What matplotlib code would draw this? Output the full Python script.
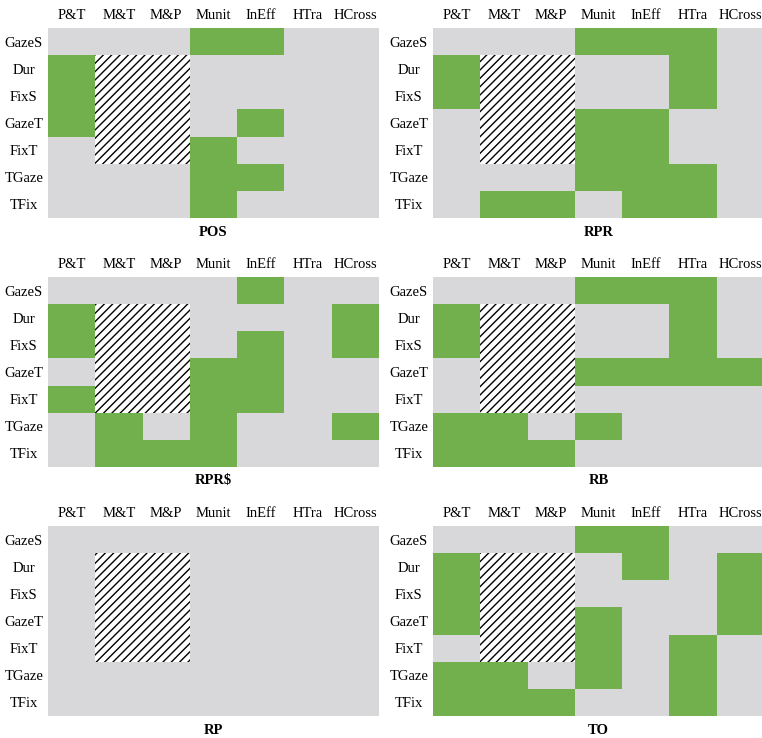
import matplotlib
matplotlib.use('Agg')
from matplotlib import pyplot as plt
from matplotlib.colors import ListedColormap
from matplotlib.patches import Rectangle
import numpy as np

# ---- data ------------------------------------------------------------------
cols = ['P&T', 'M&T', 'M&P', 'Munit', 'InEff', 'HTra', 'HCross']
rows = ['GazeS', 'Dur', 'FixS', 'GazeT', 'FixT', 'TGaze', 'TFix']

# cells that are not applicable (hatched)
na_rows = ['Dur', 'FixS', 'GazeT', 'FixT']
na_cols = ['M&T', 'M&P']

# 1 = significant (green), 0 = not (gray); rows x cols
POS = [[0, 0, 0, 1, 1, 0, 0],
       [1, 0, 0, 0, 0, 0, 0],
       [1, 0, 0, 0, 0, 0, 0],
       [1, 0, 0, 0, 1, 0, 0],
       [0, 0, 0, 1, 0, 0, 0],
       [0, 0, 0, 1, 1, 0, 0],
       [0, 0, 0, 1, 0, 0, 0]]

RPR = [[0, 0, 0, 1, 1, 1, 0],
       [1, 0, 0, 0, 0, 1, 0],
       [1, 0, 0, 0, 0, 1, 0],
       [0, 0, 0, 1, 1, 0, 0],
       [0, 0, 0, 1, 1, 0, 0],
       [0, 0, 0, 1, 1, 1, 0],
       [0, 1, 1, 0, 1, 1, 0]]

RPRD = [[0, 0, 0, 0, 1, 0, 0],
        [1, 0, 0, 0, 0, 0, 1],
        [1, 0, 0, 0, 1, 0, 1],
        [0, 0, 0, 1, 1, 0, 0],
        [1, 0, 0, 1, 1, 0, 0],
        [0, 1, 0, 1, 0, 0, 1],
        [0, 1, 1, 1, 0, 0, 0]]

RB = [[0, 0, 0, 1, 1, 1, 0],
      [1, 0, 0, 0, 0, 1, 0],
      [1, 0, 0, 0, 0, 1, 0],
      [0, 0, 0, 1, 1, 1, 1],
      [0, 0, 0, 0, 0, 0, 0],
      [1, 1, 0, 1, 0, 0, 0],
      [1, 1, 1, 0, 0, 0, 0]]

RP = [[0] * 7 for _ in range(7)]

TO = [[0, 0, 0, 1, 1, 0, 0],
      [1, 0, 0, 0, 1, 0, 1],
      [1, 0, 0, 0, 0, 0, 1],
      [1, 0, 0, 1, 0, 0, 1],
      [0, 0, 0, 1, 0, 1, 0],
      [1, 1, 0, 1, 0, 1, 0],
      [1, 1, 1, 0, 0, 1, 0]]

panels = [('POS', POS), ('RPR', RPR), ('RPR$', RPRD),
          ('RB', RB), ('RP', RP), ('TO', TO)]

# ---- style -----------------------------------------------------------------
gray = '#d8d8da'
green = '#71b04c'
cmap = ListedColormap([gray, green, 'white'])
plt.rcParams['font.family'] = ['Liberation Serif', 'DejaVu Serif']
plt.rcParams['hatch.linewidth'] = 1.0
fs = 10.5

W, H = 762, 738
fig = plt.figure(figsize=(W / 100, H / 100), dpi=100)

lefts = [48, 433]
tops = [28, 277, 526]
aw, ah = 331, 190

for k, (name, mat) in enumerate(panels):
    r, c = divmod(k, 2)
    ax = fig.add_axes([lefts[c] / W, 1 - (tops[r] + ah) / H, aw / W, ah / H])
    m = np.array(mat, dtype=float)
    for rn in na_rows:
        for cn in na_cols:
            m[rows.index(rn), cols.index(cn)] = 2
    ax.pcolormesh(np.arange(len(cols) + 1), np.arange(len(rows) + 1), m,
                  cmap=cmap, vmin=-0.5, vmax=2.5)
    # hatched n/a cells
    for rn in na_rows:
        for cn in na_cols:
            ax.add_patch(Rectangle((cols.index(cn), rows.index(rn)), 1, 1,
                                   facecolor='white', edgecolor='black',
                                   hatch='////', lw=0))
    ax.set_xlim(0, len(cols))
    ax.set_ylim(len(rows), 0)
    ax.xaxis.tick_top()
    ax.set_xticks(np.arange(len(cols)) + 0.5)
    ax.set_xticklabels(cols, fontsize=fs)
    ax.set_yticks(np.arange(len(rows)) + 0.5)
    ax.set_yticklabels(rows, fontsize=fs, ha='center')
    ax.tick_params(axis='x', length=0, pad=4)
    ax.tick_params(axis='y', length=0, pad=17.3)
    for s in ax.spines.values():
        s.set_visible(False)
    ax.text(0.5, -14 / ah, name, transform=ax.transAxes, ha='center',
            va='center', fontsize=fs, fontweight='bold')

fig.savefig('out.png', dpi=100)
